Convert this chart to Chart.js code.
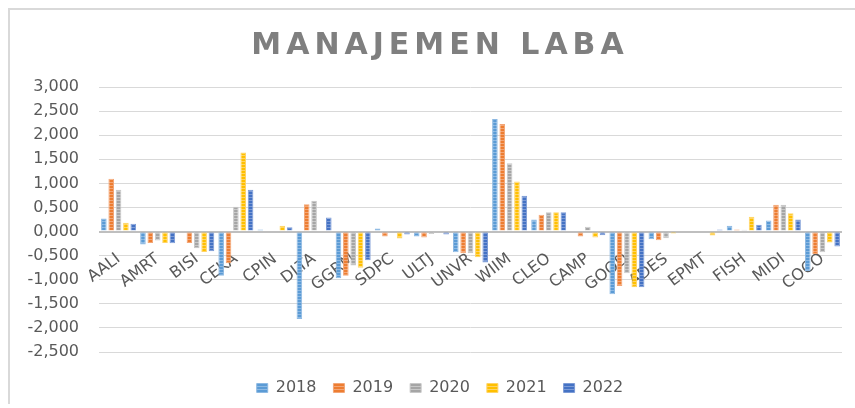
<!DOCTYPE html>
<html><head><meta charset="utf-8">
<script src="https://cdn.jsdelivr.net/npm/chart.js@4.4.1/dist/chart.umd.min.js"></script>
<style>
html,body{margin:0;padding:0;background:#fff;}
#wrap{position:relative;width:855px;height:408px;overflow:hidden;}
#frame{position:absolute;left:8px;top:8px;width:900px;height:394px;border-left:2px solid #d9d9d9;border-top:2px solid #d9d9d9;pointer-events:none;}
canvas{position:absolute;left:0;top:0;}
</style></head><body>
<div id="wrap"><canvas id="c" width="855" height="408"></canvas><div id="frame"></div></div>
<script>
const categories = ['AALI','AMRT','BISI','CEKA','CPIN','DLTA','GGRM','SDPC','ULTJ','UNVR','WIIM','CLEO','CAMP','GOOD','ADES','EPMT','FISH','MIDI','COCO'];
const seriesNames = ['2018','2019','2020','2021','2022'];
const v2018 = [0.270,-0.270,0,-0.915,0.040,-1.817,-0.971,0.062,-0.104,-0.428,2.337,0.250,0,-1.300,-0.160,0,0.118,0.229,-0.818];
const v2019 = [1.096,-0.236,-0.236,-0.659,0,0.569,-0.915,-0.104,-0.125,-0.450,2.233,0.347,-0.104,-1.130,-0.180,0,0.042,0.555,-0.464];
const v2020 = [0.867,-0.187,-0.347,0.513,0,0.638,-0.707,0,-0.049,-0.450,1.415,0.402,0.097,-0.866,-0.139,0,0.035,0.555,-0.430];
const v2021 = [0.180,-0.236,-0.423,1.643,0.120,0,-0.749,-0.146,0,-0.535,1.040,0.402,-0.125,-1.157,-0.042,-0.083,0.305,0.381,-0.229];
const v2022 = [0.160,-0.243,-0.409,0.867,0.090,0.291,-0.596,-0.062,-0.062,-0.645,0.742,0.402,-0.076,-1.157,0,0.042,0.139,0.250,-0.312];
const yTickValues = [-2.5,-2,-1.5,-1,-0.5,0,0.5,1,1.5,2,2.5,3];
const yTickLabels = ['-2,500','-2,000','-1,500','-1,000','-0,500','0,000','0,500','1,000','1,500','2,000','2,500','3,000'];

const baseColors = ['#5B9BD5','#ED7D31','#A5A5A5','#FFC000','#4472C4'];
const lightColors = ['#8DB9E3','#F3A676','#C8C8C8','#FFD466','#7C9BD6'];
function stripe(base, light){
  const c=document.createElement('canvas'); c.width=4; c.height=3;
  const g=c.getContext('2d'); g.fillStyle=base; g.fillRect(0,0,4,3);
  g.fillStyle=light; g.fillRect(0,2,4,1);
  return g.createPattern(c,'repeat');
}
const values = [v2018,v2019,v2020,v2021,v2022];
const datasets = seriesNames.map((n,i)=>({
  label:n, data:values[i],
  backgroundColor: stripe(baseColors[i], lightColors[i]),
  borderColor: lightColors[i], borderWidth: 1,
  barPercentage: 0.76, categoryPercentage: 0.94
}));

const titleSpacing = {
  id:'titleSpacing',
  beforeDraw(chart){
    const tb = chart.titleBlock;
    if (tb && !tb._spaced){
      const orig = tb.draw;
      tb.draw = function(...a){ const c=this.ctx; const p=c.letterSpacing; c.letterSpacing='5px'; orig.apply(this,a); c.letterSpacing=p; };
      tb._spaced = true;
    }
  }
};

const F = 'DejaVu Sans';
new Chart(document.getElementById('c'), {
  type:'bar',
  data:{labels:categories, datasets},
  plugins:[titleSpacing],
  options:{
    responsive:false, animation:false,
    layout:{padding:{left:38,right:13,top:8,bottom:2}},
    plugins:{
      title:{display:true,text:'MANAJEMEN LABA',color:'#7F7F7F',font:{family:F,size:30,weight:'bold'},padding:{top:20,bottom:23}},
      legend:{position:'bottom',labels:{color:'#595959',font:{family:F,size:16},boxWidth:11,boxHeight:9,padding:17}},
      tooltip:{enabled:false}
    },
    scales:{
      x:{
        position:{y:0},
        grid:{display:false,drawTicks:false},
        border:{display:false},
        ticks:{autoSkip:false,minRotation:37,maxRotation:37,padding:18,color:'#595959',font:{family:F,size:16}}
      },
      xGap:{
        type:'category', position:'bottom', display:true,
        grid:{display:false,drawTicks:false}, border:{display:false},
        ticks:{display:false},
        afterFit(s){ s.height = 11; }
      },
      y:{
        min:-2.5,max:3,
        afterFit(s){ s.width = 61; s._computeLabelArea = () => undefined; },
        grid:{drawTicks:false,
          color:(c)=> (c.tick && c.tick.value===0) ? '#BFBFBF' : '#D9D9D9',
          lineWidth:(c)=> (c.tick && c.tick.value===0) ? 2 : 1},
        border:{display:false},
        ticks:{stepSize:0.5,padding:20,color:'#595959',font:{family:F,size:16},
          callback:(v)=>{const i=yTickValues.indexOf(Math.round(v*1000)/1000); return i>=0?yTickLabels[i]:'';}}
      }
    }
  }
});
</script>
</body></html>
